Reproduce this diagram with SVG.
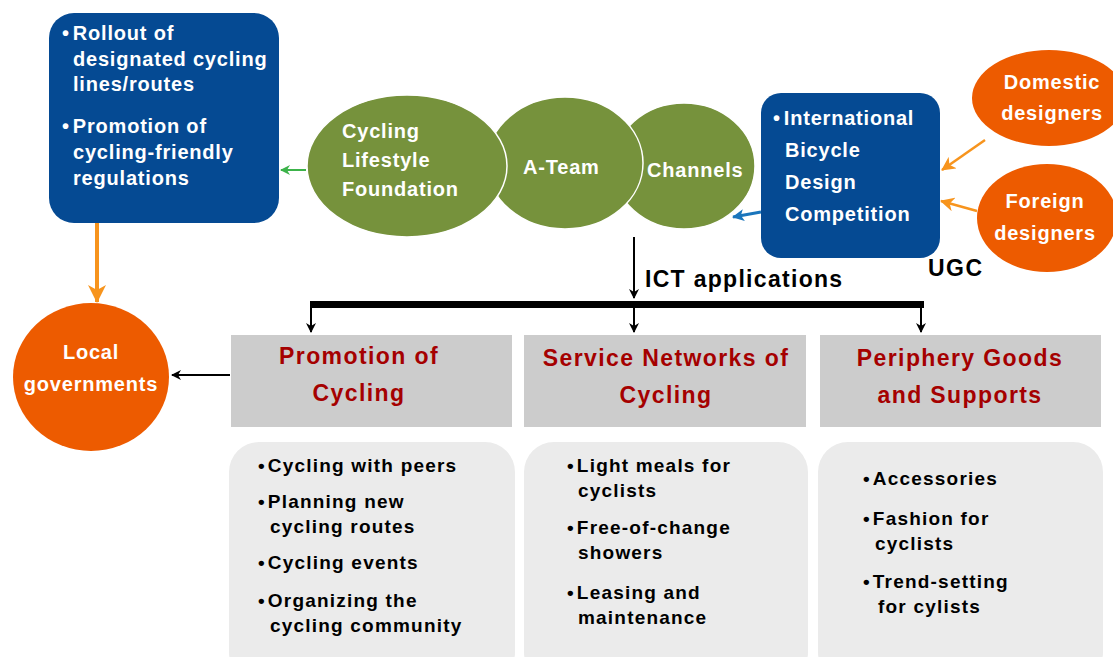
<svg xmlns="http://www.w3.org/2000/svg" width="1113" height="657" viewBox="0 0 1113 657">
<style>
.t{font-family:"Liberation Sans",Arial,sans-serif;font-weight:bold}
.w{fill:#fff;font-size:20px;letter-spacing:0.8px}
.k{fill:#000;font-size:19px;letter-spacing:1.2px}
.r{fill:#a50000;font-size:23px;letter-spacing:1.4px}
.blue{fill:#054a93}
.green{fill:#76923c;stroke:#fff;stroke-width:1.5}
.orange{fill:#ed5b00}
.hdr{fill:#cccccc}
.card{fill:#ebebeb}
</style>
<defs>
<marker id="mk" markerWidth="10" markerHeight="10" refX="9" refY="5" orient="auto" markerUnits="userSpaceOnUse"><path d="M0,0 L10,5 L0,10 L3,5 Z" fill="#000"/></marker>
<marker id="mo" markerWidth="14" markerHeight="14" refX="13" refY="7" orient="auto" markerUnits="userSpaceOnUse"><path d="M0,0 L14,7 L0,14 L4,7 Z" fill="#f7941d"/></marker>
<marker id="mo2" markerWidth="18" markerHeight="18" refX="17" refY="9" orient="auto" markerUnits="userSpaceOnUse"><path d="M0,0 L18,9 L0,18 L5,9 Z" fill="#f7941d"/></marker>
<marker id="mg" markerWidth="10" markerHeight="10" refX="9" refY="5" orient="auto" markerUnits="userSpaceOnUse"><path d="M0,0 L10,5 L0,10 L3,5 Z" fill="#3cb34a"/></marker>
<marker id="mb" markerWidth="12" markerHeight="12" refX="11" refY="6" orient="auto" markerUnits="userSpaceOnUse"><path d="M0,0 L12,6 L0,12 L3,6 Z" fill="#1a75bc"/></marker>
</defs>

<g id="connectors">
<line x1="306" y1="170" x2="281" y2="170" stroke="#3cb34a" stroke-width="2" marker-end="url(#mg)"/>
<line x1="761" y1="212" x2="733" y2="217" stroke="#1a75bc" stroke-width="3" marker-end="url(#mb)"/>
<line x1="985" y1="140" x2="942" y2="170" stroke="#f7941d" stroke-width="2.5" marker-end="url(#mo)"/>
<line x1="977" y1="211" x2="941" y2="201" stroke="#f7941d" stroke-width="2.5" marker-end="url(#mo)"/>
<line x1="97" y1="223" x2="97" y2="302" stroke="#f7941d" stroke-width="4" marker-end="url(#mo2)"/>
<line x1="230" y1="375" x2="172" y2="375" stroke="#000" stroke-width="2" marker-end="url(#mk)"/>
<line x1="634" y1="237" x2="634" y2="298" stroke="#000" stroke-width="2" marker-end="url(#mk)"/>
<line x1="310" y1="304.5" x2="924" y2="304.5" stroke="#000" stroke-width="7"/>
<line x1="311" y1="304" x2="311" y2="332" stroke="#000" stroke-width="2" marker-end="url(#mk)"/>
<line x1="634" y1="304" x2="634" y2="332" stroke="#000" stroke-width="2" marker-end="url(#mk)"/>
<line x1="921" y1="304" x2="921" y2="332" stroke="#000" stroke-width="2" marker-end="url(#mk)"/>
<text class="t" x="645" y="287" font-size="23" letter-spacing="1.3">ICT applications</text>
</g>

<g id="policy">
<rect class="blue" x="49" y="13" width="230" height="210" rx="25"/>
<text class="t w" x="62" y="40" letter-spacing="1">•<tspan dx="3">Rollout of</tspan></text>
<text class="t w" x="73" y="66" letter-spacing="1">designated cycling</text>
<text class="t w" x="73" y="91" letter-spacing="1">lines/routes</text>
<text class="t w" x="62" y="133" letter-spacing="1">•<tspan dx="3">Promotion of</tspan></text>
<text class="t w" x="73" y="159" letter-spacing="1">cycling-friendly</text>
<text class="t w" x="73" y="185" letter-spacing="1">regulations</text>
</g>

<g id="channels">
<ellipse class="green" cx="684" cy="166" rx="71" ry="63"/>
<text class="t w" x="647" y="177">Channels</text>
</g>
<g id="ateam">
<ellipse class="green" cx="565" cy="163" rx="78" ry="66"/>
<text class="t w" x="523" y="174">A-Team</text>
</g>
<g id="foundation">
<ellipse class="green" cx="407" cy="166" rx="100" ry="71"/>
<text class="t w" x="342" y="138">Cycling</text>
<text class="t w" x="342" y="167">Lifestyle</text>
<text class="t w" x="342" y="196">Foundation</text>
</g>

<g id="competition">
<rect class="blue" x="761" y="93" width="179" height="165" rx="20"/>
<text class="t w" x="773" y="125">•<tspan dx="3">International</tspan></text>
<text class="t w" x="785" y="157">Bicycle</text>
<text class="t w" x="785" y="189">Design</text>
<text class="t w" x="785" y="221">Competition</text>
</g>

<g id="ugc"><text class="t" x="928" y="276" font-size="23" letter-spacing="1.5">UGC</text></g>

<g id="domestic">
<ellipse class="orange" cx="1049" cy="98" rx="77" ry="48"/>
<text class="t w" x="1052" y="89" text-anchor="middle">Domestic</text>
<text class="t w" x="1052" y="120" text-anchor="middle">designers</text>
</g>
<g id="foreign">
<ellipse class="orange" cx="1047" cy="218" rx="70" ry="54"/>
<text class="t w" x="1045" y="208" text-anchor="middle">Foreign</text>
<text class="t w" x="1045" y="240" text-anchor="middle">designers</text>
</g>

<g id="local">
<ellipse class="orange" cx="91" cy="377" rx="78" ry="74"/>
<text class="t w" x="91" y="359" text-anchor="middle" font-size="18">Local</text>
<text class="t w" x="91" y="391" text-anchor="middle" font-size="18">governments</text>
</g>

<g id="promotion">
<rect class="hdr" x="231" y="335" width="281" height="92"/>
<text class="t r" x="359" y="364" text-anchor="middle">Promotion of</text>
<text class="t r" x="359" y="401" text-anchor="middle">Cycling</text>
<rect class="card" x="229" y="442" width="286" height="240" rx="30"/>
<text class="t k" x="258" y="472">•<tspan dx="2">Cycling with peers</tspan></text>
<text class="t k" x="258" y="508">•<tspan dx="2">Planning new</tspan></text>
<text class="t k" x="270" y="533">cycling routes</text>
<text class="t k" x="258" y="569">•<tspan dx="2">Cycling events</tspan></text>
<text class="t k" x="258" y="607">•<tspan dx="2">Organizing the</tspan></text>
<text class="t k" x="270" y="632">cycling community</text>
</g>

<g id="service">
<rect class="hdr" x="524" y="335" width="282" height="92"/>
<text class="t r" x="666" y="366" text-anchor="middle">Service Networks of</text>
<text class="t r" x="666" y="403" text-anchor="middle">Cycling</text>
<rect class="card" x="524" y="442" width="284" height="240" rx="30"/>
<text class="t k" x="567" y="472">•<tspan dx="2">Light meals for</tspan></text>
<text class="t k" x="578" y="497">cyclists</text>
<text class="t k" x="567" y="534">•<tspan dx="2">Free-of-change</tspan></text>
<text class="t k" x="578" y="559">showers</text>
<text class="t k" x="567" y="599">•<tspan dx="2">Leasing and</tspan></text>
<text class="t k" x="578" y="624">maintenance</text>
</g>

<g id="periphery">
<rect class="hdr" x="820" y="335" width="281" height="92"/>
<text class="t r" x="960" y="366" text-anchor="middle">Periphery Goods</text>
<text class="t r" x="960" y="403" text-anchor="middle">and Supports</text>
<rect class="card" x="818" y="442" width="285" height="240" rx="30"/>
<text class="t k" x="863" y="485">•<tspan dx="2">Accessories</tspan></text>
<text class="t k" x="863" y="525">•<tspan dx="2">Fashion for</tspan></text>
<text class="t k" x="875" y="550">cyclists</text>
<text class="t k" x="863" y="588">•<tspan dx="2">Trend-setting</tspan></text>
<text class="t k" x="878" y="613">for cylists</text>
</g>
</svg>
